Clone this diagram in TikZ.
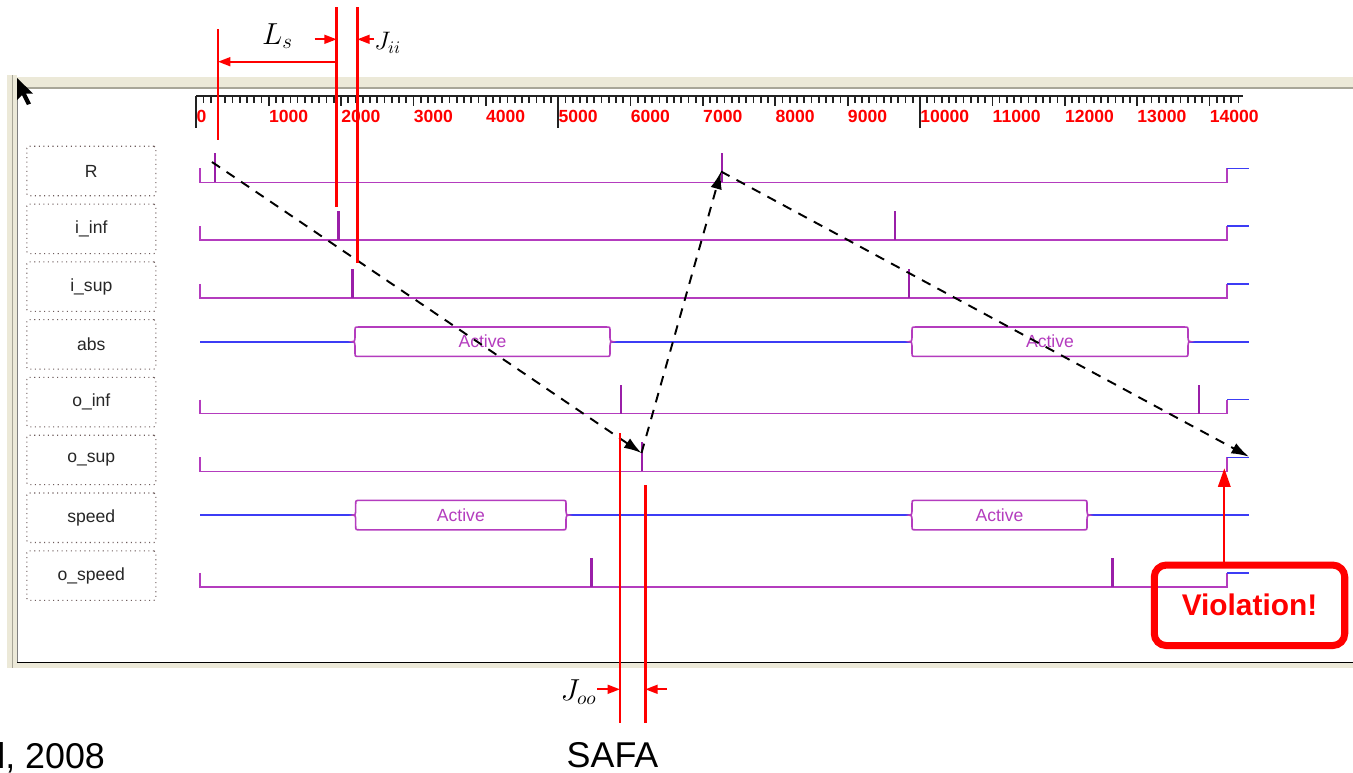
\documentclass[tikz,border=0pt]{standalone}
\usepackage{fontspec}
\setmainfont{Liberation Sans}
\usetikzlibrary{arrows.meta,positioning,calc}
\definecolor{sigpurple}{HTML}{B43CBE}
\definecolor{pulsepurple}{HTML}{9A1FA8}
\definecolor{busblue}{HTML}{3C3CF5}
\definecolor{xpbeige}{HTML}{ECE9D8}
\definecolor{xpgray}{HTML}{A8A698}
\definecolor{rulergray}{HTML}{222222}
\definecolor{labelgray}{HTML}{6E5C5C}

% binary signal: baseline y, pulse positions
\newcommand{\binsig}[2]{%
  \draw[sig] (200,#1-14) -- (200,#1) -- (1227,#1) -- (1227,#1-14);
  \draw[undef] (1227,#1-14) -- (1249,#1-14);
  \foreach \px in {#2} \draw[blip] (\px,#1) -- (\px,#1-29);
}
% bus value box: from x, to x, centre y
\newcommand{\activebus}[3]{%
  \draw[busbox] (#1,#3) .. controls (#1+2.5,#3) .. (#1+3,#3-4) -- (#1+3,#3-11)
    .. controls (#1+3,#3-14.7) .. (#1+7,#3-14.7) -- (#2-7,#3-14.7)
    .. controls (#2-3,#3-14.7) .. (#2-3,#3-11) -- (#2-3,#3-4)
    .. controls (#2-2.5,#3) .. (#2,#3) .. controls (#2-2.5,#3) .. (#2-3,#3+4)
    -- (#2-3,#3+11) .. controls (#2-3,#3+14.7) .. (#2-7,#3+14.7)
    -- (#1+7,#3+14.7) .. controls (#1+3,#3+14.7) .. (#1+3,#3+11)
    -- (#1+3,#3+4) .. controls (#1+2.5,#3) .. cycle;
  \node[stateval] at ({(#1+#2)/2},#3) {Active};
}

\begin{document}
\begin{tikzpicture}[
  x=0.02cm, y=-0.02cm,
  node distance=1.45mm,
  lbl/.style={draw=labelgray, dotted, line width=0.6pt, rounded corners=1pt,
              inner sep=0pt, minimum width=2.58cm, minimum height=0.99cm,
              font=\fontsize{10}{12}\selectfont, text=black!85},
  sig/.style={draw=sigpurple, line width=0.9pt},
  blip/.style={draw=pulsepurple, line width=1.5pt},
  undef/.style={draw=busblue, line width=0.9pt},
  busbox/.style={draw=sigpurple, fill=white, line width=0.9pt},
  stateval/.style={text=sigpurple, font=\fontsize{10}{12}\selectfont},
  ticklbl/.style={text=red, font=\fontsize{10}{12}\selectfont\bfseries,
                  inner sep=0pt, anchor=west},
  marker/.style={red, line width=1.4pt},
  dimarr/.style={red, line width=1.2pt, -{Triangle[length=7pt,width=5pt]}},
  depend/.style={black, line width=1.1pt, dash pattern=on 5.5pt off 4.5pt,
                 -{Latex[length=10pt,width=6.5pt]}}
]
\fill[white] (0,0) rectangle (1353,772);
\useasboundingbox (0,0) rectangle (1353,772);

% window frame
\fill[xpbeige] (17,76.7) rectangle (1353,87.3);
\draw[xpgray, line width=0.6pt] (17,88) -- (1353,88);
\fill[xpbeige] (7,75) rectangle (17,668);
\draw[xpgray, line width=1pt] (12.5,75) -- (12.5,668);
\draw[gray, line width=0.8pt] (17.5,88) -- (17.5,662.5);
\fill[xpbeige] (17,663) rectangle (1353,668);
\draw[black, line width=1pt] (17,662.5) -- (1353,662.5);
\fill[black] (17,78) -- (17,100) -- (22,95) -- (27,105) -- (31,103.5) -- (26,93.5) -- (33,93.5) -- cycle;

% ruler
\draw[rulergray, line width=1.1pt] (196.3,96) -- (1243,96);
\foreach \t in {0,...,144}{
  \pgfmathsetmacro{\len}{ifthenelse(mod(\t,50)==0,32,ifthenelse(mod(\t,10)==0,10,7))}
  \draw[rulergray, line width=1pt] (196.3+7.237*\t,96) -- ++(0,\len);
}
\foreach \t in {0,...,14}{
  \pgfmathtruncatemacro{\v}{\t*1000}
  \node[ticklbl] at (196.3+72.37*\t,116.3) {\v};
}

% signal names
\node[lbl] (lR) at (91.3,171) {R};
\node[lbl, below=of lR] (lIinf) {i\_inf};
\node[lbl, below=of lIinf] (lIsup) {i\_sup};
\node[lbl, below=of lIsup] (lAbs) {abs};
\node[lbl, below=of lAbs] (lOinf) {o\_inf};
\node[lbl, below=of lOinf] (lOsup) {o\_sup};
\node[lbl, below=of lOsup] (lSpeed) {speed};
\node[lbl, below=of lSpeed] (lOspeed) {o\_speed};

% waveforms
\binsig{182.3}{215,722}
\binsig{240.1}{338.3,895}
\binsig{297.9}{352.7,909}
\draw[undef] (200,341.7) -- (1249,341.7);
\activebus{352}{613}{341.7}
\activebus{909}{1191}{341.7}
\binsig{413.5}{621,1199}
\binsig{471.3}{642}
\draw[undef] (200,515.1) -- (1249,515.1);
\activebus{352.7}{569}{515.1}
\activebus{909}{1090}{515.1}
\binsig{586.9}{591.7,1112.3}

% causality chain
\coordinate (evR1) at (212,162);
\coordinate (evOsup) at (641.5,453);
\coordinate (evR2) at (721,171.5);
\coordinate (evEnd) at (1249,456.7);
\draw[depend] (evR1) -- (evOsup);
\draw[depend] (evOsup) -- (evR2);
\draw[depend] (evR2) -- (evEnd);

% latency / jitter marks
\draw[marker] (218,29) -- (218,140);
\draw[marker] (336.7,7) -- (336.7,207);
\draw[marker] (357.3,7) -- (357.3,263);
\draw[marker] (620,433) -- (620,723);
\draw[marker] (645.3,485) -- (645.3,723);

\coordinate (lsA) at (218,61.7);
\coordinate (lsB) at (336.7,61.7);
\draw[dimarr, {Triangle[length=7pt,width=5pt]}-] (lsA) -- (lsB);
\node[font=\fontsize{18}{20}\selectfont, inner sep=0pt] (lsLbl) at (277.5,36) {$L_s$};

\coordinate (jiA) at (336.7,39.3);
\coordinate (jiB) at (357.3,39.3);
\draw[dimarr] ($(jiA)+(-22,0)$) -- (jiA);
\node[font=\fontsize{14}{16}\selectfont, inner sep=0pt, anchor=west] (jiLbl) at (374,43) {$J_{ii}$};
\draw[dimarr] (jiLbl.west |- jiB) -- (jiB);

\coordinate (joA) at (620,689.3);
\coordinate (joB) at (645.3,689.3);
\node[font=\fontsize{16}{18}\selectfont, inner sep=0pt, anchor=east] (joLbl) at (597,692) {$J_{oo}$};
\draw[dimarr] (joLbl.east |- joA) -- (joA);
\draw[dimarr] ($(joB)+(21.4,0)$) -- (joB);

% violation
\node[draw=red, line width=4pt, rounded corners=6.8pt, minimum width=3.81cm,
      minimum height=1.61cm, text=red, font=\fontsize{17}{20}\selectfont\bfseries]
      (viol) at (1249.5,605.3) {Violation!};
\coordinate (violTip) at (1224.3,468.3);
\draw[red, line width=1.2pt, -{Triangle[length=10.5pt,width=7pt]}] (viol.north -| violTip) -- (violTip);

% slide footer
\node[anchor=base west, inner sep=0pt, font=\fontsize{20.4}{24}\selectfont] (footL) at (-3,768) {l, 2008};
\node[anchor=base, inner sep=0pt, font=\fontsize{20.4}{24}\selectfont] (footC) at (612.5,767) {SAFA};
\end{tikzpicture}
\end{document}
